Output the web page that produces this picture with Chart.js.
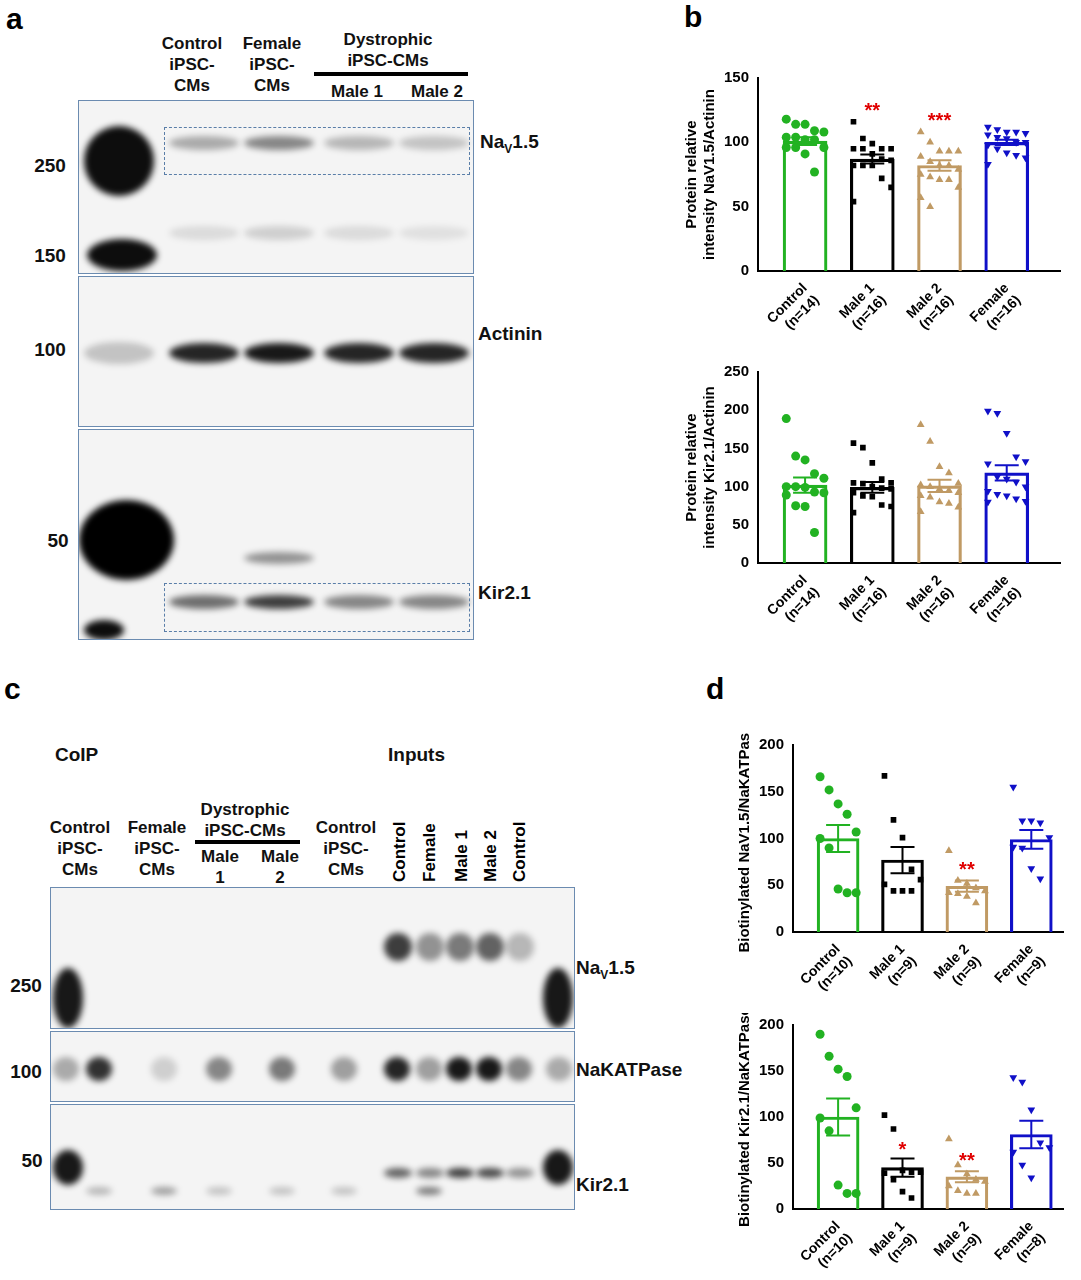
<!DOCTYPE html>
<html>
<head>
<meta charset="utf-8">
<script src="https://cdn.jsdelivr.net/npm/chart.js@4.4.1/dist/chart.umd.min.js"></script>
<style>
  body { margin: 0; background: #fff; font-family: "Liberation Sans", Arial, sans-serif; }
  #page { position: relative; width: 1081px; height: 1280px; overflow: hidden; }
  .t { position: absolute; font-weight: bold; color: #111; font-size: 17px; text-align: center; line-height: 21px; white-space: nowrap; }
  .letter { position: absolute; font-weight: bold; font-size: 30px; }
  .blot { position: absolute; border: 1.5px solid #6b8bb0; background: #f4f4f4; overflow: hidden; }
  .band { position: absolute; border-radius: 50%; filter: blur(3px); }
  .dash { position: absolute; border: 1.5px dashed #5a7ea8; }
  .chart { position: absolute; }
  .rot { position: absolute; font-weight: bold; font-size: 17px; transform: rotate(-90deg); transform-origin: left top; white-space: nowrap; }
</style>
</head>
<body>
<div id="page"></div>
<script>
// ---- data ----
const groups = ['Control', 'Male 1', 'Male 2', 'Female'];
const colors = ['#22b222', '#000000', '#c09a64', '#1010c8'];
const shapes = ['circle', 'rect', 'triangle', 'triangle'];

const navActN = ['(n=14)', '(n=16)', '(n=16)', '(n=16)'];
const navActCtrl = [118, 114, 114, 109, 108, 104, 104, 102, 102, 96, 96, 96, 91, 77];
const navActM1 = [116, 103, 99, 95, 95, 95, 95, 91, 87, 86, 82, 82, 82, 72, 65, 54];
const navActM2 = [108, 100, 93, 93, 93, 89, 85, 82, 82, 79, 75, 73, 71, 71, 65, 57, 50];
const navActFem = [112, 110, 108, 108, 107, 106, 104, 103, 100, 100, 98, 95, 92, 90, 88, 83];
const navActMean = [101, 87, 82, 100];
const navActSem = [3, 3.5, 4, 2];
const navActStars = ['', '**', '***', ''];

const kirActN = ['(n=14)', '(n=16)', '(n=16)', '(n=16)'];
const kirActCtrl = [189, 140, 135, 117, 111, 100, 100, 99, 93, 92, 89, 75, 74, 40];
const kirActM1 = [157, 151, 131, 110, 105, 105, 104, 100, 98, 97, 92, 88, 87, 76, 74, 66];
const kirActM2 = [181, 159, 126, 118, 104, 102, 100, 97, 95, 92, 88, 86, 80, 78, 73, 67];
const kirActFem = [199, 196, 170, 139, 133, 130, 113, 110, 106, 100, 94, 90, 88, 84, 81, 80];
const kirActMean = [102, 99, 101, 118];
const kirActSem = [10, 7, 8, 10];
const kirActStars = ['', '', '', ''];

const navBioN = ['(n=10)', '(n=9)', '(n=9)', '(n=9)'];
const navBioCtrl = [166, 152, 137, 126, 107, 100, 90, 46, 42, 42];
const navBioM1 = [167, 120, 101, 67, 56, 51, 44, 44, 44];
const navBioM2 = [87, 55, 52, 47, 44, 42, 41, 38, 31];
const navBioFem = [155, 119, 119, 117, 101, 91, 90, 68, 57];
const navBioMean = [100, 77, 49, 99];
const navBioSem = [14.5, 14, 6, 10];
const navBioStars = ['', '', '**', ''];

const kirBioN = ['(n=10)', '(n=9)', '(n=9)', '(n=8)'];
const kirBioCtrl = [190, 166, 152, 144, 110, 99, 85, 26, 17, 17];
const kirBioM1 = [102, 87, 42, 40, 40, 39, 32, 19, 12];
const kirBioM2 = [76, 48, 38, 32, 30, 25, 20, 17, 17];
const kirBioFem = [143, 138, 108, 72, 67, 62, 48, 34];
const kirBioMean = [100, 45, 35, 81];
const kirBioSem = [20, 10, 6, 15];
const kirBioStars = ['', '*', '**', ''];

const page = document.getElementById('page');
function el(cls, css, html) {
  const d = document.createElement('div');
  d.className = cls;
  Object.assign(d.style, css);
  if (html !== undefined) d.innerHTML = html;
  page.appendChild(d);
  return d;
}
function txt(x, y, html, size) {
  el('t', { left: x + 'px', top: y + 'px', transform: 'translateX(-50%)', fontSize: (size || 17) + 'px' }, html);
}
function band(parent, x, y, w, h, a) {
  const d = document.createElement('div');
  d.className = 'band';
  Object.assign(d.style, { left: x + 'px', top: y + 'px', width: w + 'px', height: h + 'px', background: 'rgba(0,0,0,' + a + ')' });
  parent.appendChild(d);
}
function blot(x, y, w, h) {
  return el('blot', { left: x + 'px', top: y + 'px', width: w + 'px', height: h + 'px' });
}

// ---- panel a ----
el('letter', { left: '6px', top: '2px' }, 'a');
txt(192, 33, 'Control<br>iPSC-<br>CMs');
txt(272, 33, 'Female<br>iPSC-<br>CMs');
txt(388, 29, 'Dystrophic<br>iPSC-CMs');
el('', { position: 'absolute', left: '314px', top: '72px', width: '154px', height: '4px', background: '#000' });
txt(357, 81, 'Male 1');
txt(437, 81, 'Male 2');
let b1 = blot(78, 100, 394, 172);
band(b1, 5, 25, 70, 70, 0.95); band(b1, 8, 138, 70, 32, 0.95);
[[90, 0.3], [165, 0.45], [245, 0.25], [320, 0.2]].forEach(p => band(b1, p[0], 35, 70, 14, p[1]));
[[90, 0.1], [165, 0.15], [245, 0.1], [320, 0.08]].forEach(p => band(b1, p[0], 125, 70, 14, p[1]));
let b2 = blot(78, 276, 394, 149);
band(b2, 5, 65, 70, 22, 0.2);
[[90, 0.85], [165, 0.9], [245, 0.85], [320, 0.85]].forEach(p => band(b2, p[0], 66, 70, 20, p[1]));
let b3 = blot(78, 429, 394, 209);
band(b3, 0, 70, 95, 80, 1); band(b3, 5, 190, 40, 20, 0.95);
[[90, 0.55], [165, 0.75], [245, 0.45], [320, 0.45]].forEach(p => band(b3, p[0], 165, 70, 14, p[1]));
band(b3, 165, 122, 70, 12, 0.4);
el('dash', { left: '164px', top: '127px', width: '304px', height: '46px' });
el('dash', { left: '164px', top: '583px', width: '304px', height: '47px' });
txt(50, 155, '250', 19); txt(50, 245, '150', 19); txt(50, 339, '100', 19); txt(58, 530, '50', 19);
el('t', { left: '480px', top: '131px', fontSize: '19px' }, 'Na<sub style="font-size:12px">V</sub>1.5');
el('t', { left: '478px', top: '323px', fontSize: '19px' }, 'Actinin');
el('t', { left: '478px', top: '582px', fontSize: '19px' }, 'Kir2.1');

// ---- panel c ----
el('letter', { left: '4px', top: '672px' }, 'c');
el('t', { left: '55px', top: '744px', fontSize: '19px' }, 'CoIP');
el('t', { left: '388px', top: '744px', fontSize: '19px' }, 'Inputs');
txt(80, 817, 'Control<br>iPSC-<br>CMs');
txt(157, 817, 'Female<br>iPSC-<br>CMs');
txt(245, 799, 'Dystrophic<br>iPSC-CMs');
el('', { position: 'absolute', left: '195px', top: '840px', width: '105px', height: '4px', background: '#000' });
txt(220, 846, 'Male<br>1'); txt(280, 846, 'Male<br>2');
txt(346, 817, 'Control<br>iPSC-<br>CMs');
[['Control', 390], ['Female', 420], ['Male 1', 452], ['Male 2', 481], ['Control', 510]].forEach(p =>
  el('rot', { left: p[1] + 'px', top: '882px' }, p[0]));
let c1 = blot(50, 887, 523, 140);
band(c1, 2, 80, 30, 60, 0.9); band(c1, 492, 80, 30, 60, 0.9);
[[333, 0.75], [365, 0.4], [395, 0.5], [425, 0.6], [455, 0.25]].forEach(p => band(c1, p[0], 45, 28, 28, p[1]));
let c2 = blot(50, 1031, 523, 69);
[[35, 0.8], [100, 0.15], [155, 0.45], [218, 0.5], [280, 0.35], [333, 0.85], [365, 0.35], [395, 0.9], [425, 0.9], [455, 0.45], [495, 0.3], [2, 0.3]].forEach(p =>
  band(c2, p[0], 25, 26, 24, p[1]));
let c3 = blot(50, 1104, 523, 104);
band(c3, 2, 45, 30, 35, 0.9); band(c3, 492, 45, 30, 35, 0.9);
[[333, 0.6], [365, 0.45], [395, 0.75], [425, 0.7], [455, 0.4]].forEach(p => band(c3, p[0], 63, 28, 10, p[1]));
[[35, 0.25], [100, 0.35], [155, 0.2], [218, 0.2], [280, 0.2], [365, 0.5]].forEach(p => band(c3, p[0], 82, 26, 8, p[1]));
txt(26, 975, '250', 19); txt(26, 1061, '100', 19); txt(32, 1150, '50', 19);
el('t', { left: '576px', top: '957px', fontSize: '19px' }, 'Na<sub style="font-size:12px">V</sub>1.5');
el('t', { left: '576px', top: '1059px', fontSize: '19px' }, 'NaKATPase');
el('t', { left: '576px', top: '1174px', fontSize: '19px' }, 'Kir2.1');

el('letter', { left: '684px', top: '0px' }, 'b');
el('letter', { left: '706px', top: '672px' }, 'd');

// ---- charts ----
const errPlugin = {
  id: 'errbars',
  afterDatasetsDraw(chart) {
    const o = chart.config.options.plugins.errbars;
    const { ctx, scales: { x, y } } = chart;
    ctx.save();
    o.mean.forEach((m, i) => {
      const px = x.getPixelForValue(i + 1);
      const hi = y.getPixelForValue(m + o.sem[i]), lo = y.getPixelForValue(m - o.sem[i]);
      ctx.strokeStyle = colors[i]; ctx.lineWidth = 2;
      ctx.beginPath();
      ctx.moveTo(px, hi); ctx.lineTo(px, lo);
      ctx.moveTo(px - 12, hi); ctx.lineTo(px + 12, hi);
      ctx.moveTo(px - 12, lo); ctx.lineTo(px + 12, lo);
      ctx.stroke();
      if (o.stars[i]) {
        ctx.fillStyle = '#e00000'; ctx.font = 'bold 20px "Liberation Sans"'; ctx.textAlign = 'center';
        ctx.fillText(o.stars[i], px, y.getPixelForValue(o.starY[i]));
      }
    });
    ctx.restore();
  }
};

function jitter(vals, gi) {
  return vals.map((v, i) => ({ x: gi + 1 + ((i % 5) - 2) * 0.14, y: v }));
}

function makeChart(box, series, mean, sem, stars, starY, nLabels, ymax, step, title, barW, xr) {
  const c = el('chart', { left: box[0] + 'px', top: box[1] + 'px', width: box[2] + 'px', height: box[3] + 'px' });
  const cv = document.createElement('canvas');
  c.appendChild(cv);
  const datasets = series.map((vals, gi) => ({
    type: 'scatter', data: jitter(vals, gi), pointStyle: shapes[gi], rotation: gi === 3 ? 180 : 0,
    pointRadius: gi === 1 ? 4 : 4.5, backgroundColor: colors[gi], borderColor: colors[gi], borderWidth: 0
  }));
  datasets.push({
    type: 'bar', data: mean.map((m, i) => ({ x: i + 1, y: m })),
    backgroundColor: 'rgba(255,255,255,0)', borderColor: colors, borderWidth: 2.5, barThickness: barW
  });
  new Chart(cv, {
    data: { datasets },
    options: {
      responsive: true, maintainAspectRatio: false, animation: false,
      layout: { padding: { right: 4, top: 6 } },
      plugins: {
        legend: { display: false }, tooltip: { enabled: false },
        errbars: { mean, sem, stars, starY }
      },
      scales: {
        x: {
          type: 'linear', min: xr[0], max: xr[1], offset: false,
          grid: { display: false, offset: false, drawTicks: true, tickLength: 6, tickColor: '#000', tickWidth: 2 },
          border: { color: '#000', width: 2 },
          afterBuildTicks: ax => { ax.ticks = [1, 2, 3, 4].map(v => ({ value: v })); },
          ticks: {
            color: '#000', font: { family: 'Liberation Sans', weight: 'bold', size: 14 },
            minRotation: 45, maxRotation: 45,
            callback: v => [groups[v - 1], nLabels[v - 1]]
          }
        },
        y: {
          min: 0, max: ymax,
          grid: { display: false, drawTicks: true, tickLength: 6, tickColor: '#000', tickWidth: 2 },
          border: { color: '#000', width: 2 },
          ticks: { stepSize: step, color: '#000', font: { family: 'Liberation Sans', weight: 'bold', size: 15 } },
          title: { display: true, text: title, color: '#000', font: { family: 'Liberation Sans', weight: 'bold', size: 15 }, padding: 2 }
        }
      }
    },
    plugins: [errPlugin]
  });
}

makeChart([681, 66, 384, 276], [navActCtrl, navActM1, navActM2, navActFem], navActMean, navActSem, navActStars,
  [0, 120, 112, 0], navActN, 150, 50, ['Protein relative', 'intensity NaV1.5/Actinin'], 44, [0.3, 4.8]);
makeChart([681, 360, 384, 274], [kirActCtrl, kirActM1, kirActM2, kirActFem], kirActMean, kirActSem, kirActStars,
  [0, 0, 0, 0], kirActN, 250, 50, ['Protein relative', 'intensity Kir2.1/Actinin'], 44, [0.3, 4.8]);
makeChart([734, 733, 334, 270], [navBioCtrl, navBioM1, navBioM2, navBioFem], navBioMean, navBioSem, navBioStars,
  [0, 0, 60, 0], navBioN, 200, 50, 'Biotinylated NaV1.5/NaKATPase', 42, [0.3, 4.5]);
makeChart([734, 1013, 334, 267], [kirBioCtrl, kirBioM1, kirBioM2, kirBioFem], kirBioMean, kirBioSem, kirBioStars,
  [0, 58, 46, 0], kirBioN, 200, 50, 'Biotinylated Kir2.1/NaKATPase', 42, [0.3, 4.5]);
</script>
</body>
</html>
